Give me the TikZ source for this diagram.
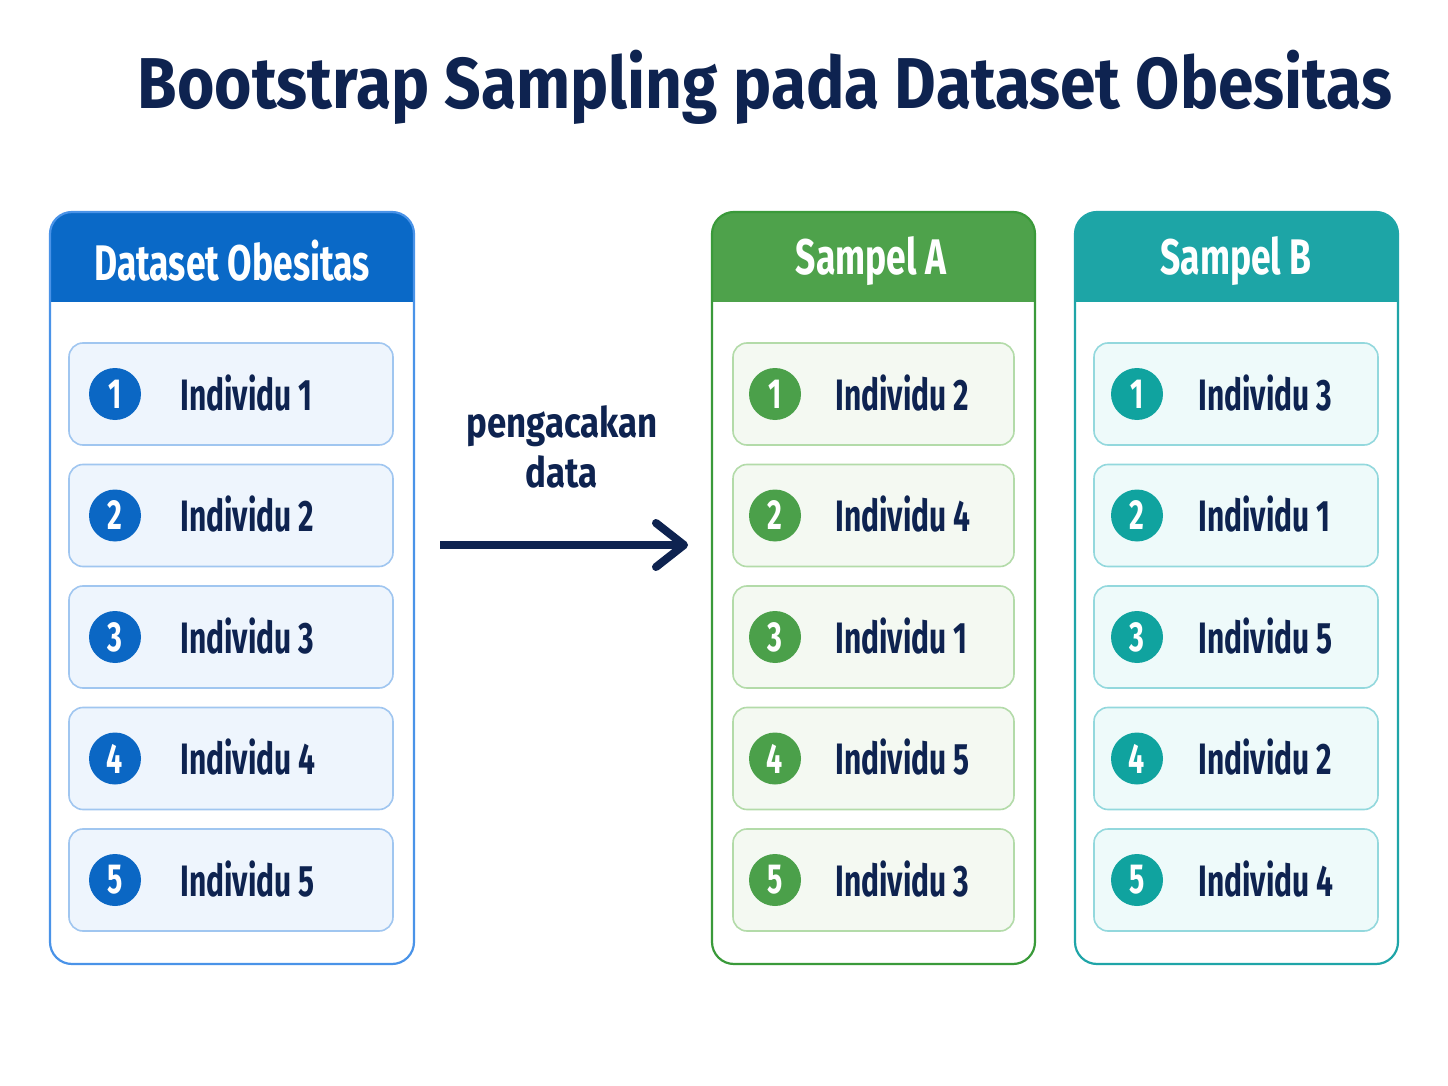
\documentclass[tikz,border=0pt]{standalone}
\usepackage{fontspec}
\setmainfont{Fira Sans}
\newfontfamily\condf[FakeStretch=0.68]{Fira Sans}
\newfontfamily\headf[FakeStretch=0.71]{Fira Sans}
\newfontfamily\lblf[FakeStretch=0.83]{Fira Sans}
\newfontfamily\titlef[FakeStretch=0.89]{Fira Sans}
\usetikzlibrary{arrows.meta}
\definecolor{navy}{RGB}{14,35,80}
\definecolor{bhead}{RGB}{10,105,199}
\definecolor{bline}{RGB}{74,147,232}
\definecolor{bfill}{RGB}{238,245,253}
\definecolor{brow}{RGB}{160,198,240}
\definecolor{bcirc}{RGB}{11,103,196}
\definecolor{ghead}{RGB}{78,162,75}
\definecolor{gline}{RGB}{58,154,58}
\definecolor{gfill}{RGB}{244,249,242}
\definecolor{grow}{RGB}{179,219,169}
\definecolor{gcirc}{RGB}{75,160,74}
\definecolor{thead}{RGB}{29,165,166}
\definecolor{tline}{RGB}{31,165,168}
\definecolor{tfill}{RGB}{238,250,250}
\definecolor{trow}{RGB}{147,216,221}
\definecolor{tcirc}{RGB}{16,163,159}
\begin{document}
\begin{tikzpicture}[x=0.5pt,y=-0.5pt,
  panel/.style n args={3}{draw=#1, line width=1.1pt, rounded corners=11pt, fill=white,
    minimum width=#3, minimum height=376pt, inner sep=0pt,
    path picture={\fill[#2, sharp corners] (path picture bounding box.north west) rectangle ([yshift=-45pt]path picture bounding box.north east);}},
  headtxt/.style={text=white, font=\headf\bfseries\fontsize{25}{30}\selectfont},
  rowbox/.style n args={3}{draw=#1, fill=#2, line width=0.8pt, rounded corners=7pt,
    minimum width=#3, minimum height=51pt, inner sep=0pt},
  numc/.style={circle, fill=#1, minimum size=26pt, inner sep=0pt, text=white,
    font=\condf\bfseries\fontsize{21}{24}\selectfont},
  itemtxt/.style={anchor=west, text=navy, inner sep=0pt, font=\condf\bfseries\fontsize{22}{26}\selectfont},
]
\useasboundingbox (0,0) rectangle (1448,1086);
\fill[white] (0,0) rectangle (1448,1086);

\node[text=navy, font=\titlef\bfseries\fontsize{36}{40}\selectfont] (title) at (765,87) {Bootstrap Sampling pada Dataset Obesitas};

% panels
\node[panel={bline}{bhead}{182pt}] (ds) at (232,588) {};
\node[panel={gline}{ghead}{161.5pt}] (sa) at (873.5,588) {};
\node[panel={tline}{thead}{161.5pt}] (sb) at (1236.5,588) {};

\node[headtxt] (dsh) at (232,261) {Dataset Obesitas};
\node[headtxt] (sah) at (871,261) {Sampel A};
\node[headtxt] (sbh) at (1236,261) {Sampel B};

% rows
\foreach \i/\a/\b in {1/2/3,2/4/1,3/1/5,4/5/2,5/3/4}{
  \pgfmathsetmacro{\yy}{394+(\i-1)*121.5}
  \node[rowbox={brow}{bfill}{162pt}] (dr\i) at (231,\yy) {};
  \node[numc=bcirc] (dc\i) at (115,\yy) {\i};
  \node[itemtxt] (dt\i) at (180,\yy-1) {Individu \i};
  \node[rowbox={grow}{gfill}{140.5pt}] (ar\i) at (873.5,\yy) {};
  \node[numc=gcirc] (ac\i) at (775,\yy) {\i};
  \node[itemtxt] (at\i) at (835,\yy-1) {Individu \a};
  \node[rowbox={trow}{tfill}{142pt}] (br\i) at (1236,\yy) {};
  \node[numc=tcirc] (bc\i) at (1137,\yy) {\i};
  \node[itemtxt] (bt\i) at (1198,\yy-1) {Individu \b};
}

% arrow
\node[text=navy, align=center, font=\lblf\bfseries\fontsize{21}{25}\selectfont] (lbl) at (562,447) {pengacakan\\data};
\coordinate (arrS) at (440,545);
\coordinate (arrE) at (688,545);
\draw[navy, line width=4pt, -{Straight Barb[round, length=14pt, width=22pt]}] (arrS) -- (arrE);
\end{tikzpicture}
\end{document}
